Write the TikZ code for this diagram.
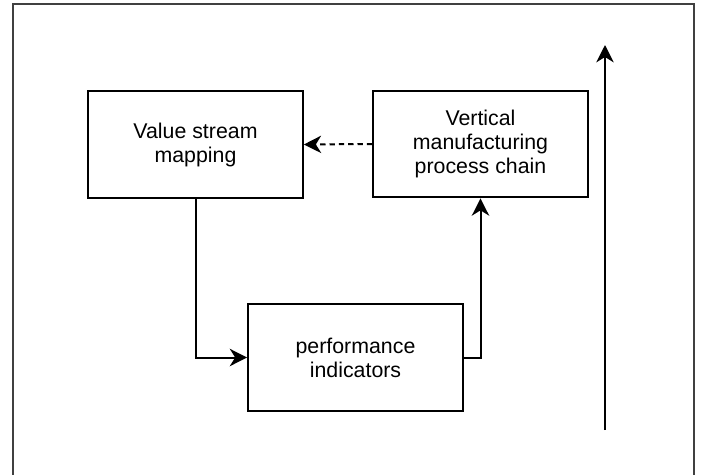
\documentclass[tikz,border=0pt]{standalone}
\usepackage{fontspec}
\setmainfont{Liberation Sans}
\usetikzlibrary{arrows.meta}
\begin{document}
\begin{tikzpicture}[x=0.75pt,y=-0.75pt,
  box/.style={draw=black,line width=1.5pt,minimum width=161pt,minimum height=80pt,
    align=center,inner sep=0pt,font=\fontsize{16}{18}\selectfont},
  conn/.style={line width=1.5pt,-{Stealth[length=13pt,width=13pt,inset=4pt]}},
  frame/.style={draw=black!75,line width=1pt}]
\useasboundingbox (0,0) rectangle (701,475);
\draw[frame] (13,480) -- (13,4) -- (694,4) -- (694,480);
\node[box] (vsm) at (195.5,144.5) {Value stream\\mapping};
\node[box] (vmp) at (480.5,144) {Vertical\\manufacturing\\process chain};
\node[box] (pi) at (355.5,357.5) {performance\\indicators};
\coordinate (ab) at (605,430);
\coordinate (at) at (605,45);
\draw[conn] (vsm.south) |- (pi.west);
\draw[conn] (pi.east) -| (vmp.south);
\draw[conn,dash pattern=on 4pt off 3pt] (vmp.west) -- (vsm.east);
\draw[conn] (ab) -- (at);
\end{tikzpicture}
\end{document}
